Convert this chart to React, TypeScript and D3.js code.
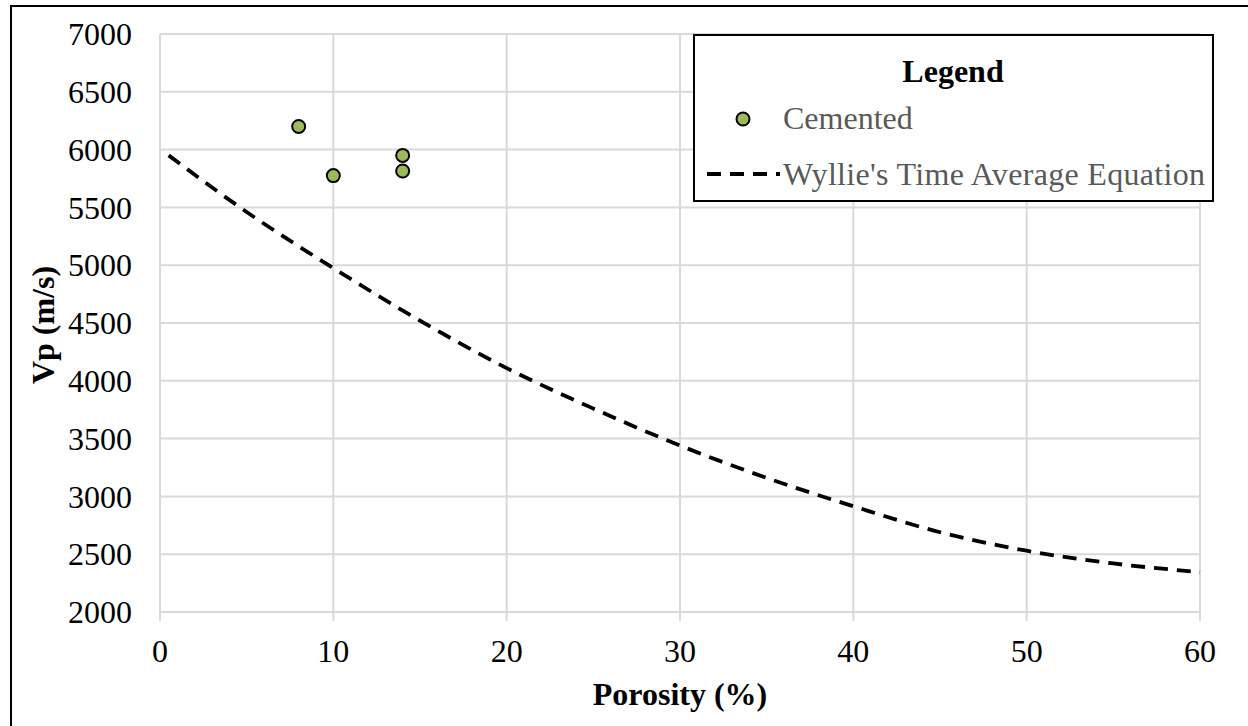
import React, { useRef, useEffect } from 'react';
import * as d3 from 'd3';

// Cemented samples: porosity (%) vs Vp (m/s)
const cementedPorosity = [8, 10, 14, 14];
const cementedVp = [6200, 5775, 5950, 5815];

// Wyllie's time average curve
const wylliePorosity = [0.5, 5, 10, 15, 20, 25, 30, 35, 40, 45, 50, 55, 60];
const wyllieVp = [5950, 5460, 4975, 4520, 4110, 3760, 3440, 3160, 2915, 2690, 2530, 2420, 2345];

const xTicks = [0, 10, 20, 30, 40, 50, 60];
const yTicks = [2000, 2500, 3000, 3500, 4000, 4500, 5000, 5500, 6000, 6500, 7000];

const width = 1248;
const height = 726;
const font = '"Liberation Serif", "Times New Roman", serif';

const App: React.FC = () => {
  const svgRef = useRef<SVGSVGElement>(null);

  useEffect(() => {
    if (!svgRef.current) return;
    const svg = d3.select(svgRef.current);
    svg.selectAll('*').remove();

    const left = 160, right = 1200, top = 34, bottom = 612;
    const xScale = d3.scaleLinear().domain([0, 60]).range([left, right]);
    const yScale = d3.scaleLinear().domain([2000, 7000]).range([bottom, top]);
    const grid = '#d9d9d9';

    // outer frame
    svg.append('rect')
      .attr('x', 11).attr('y', 6)
      .attr('width', width).attr('height', height)
      .attr('fill', 'white')
      .attr('stroke', 'black')
      .attr('stroke-width', 2);

    // horizontal gridlines
    svg.append('g').selectAll('line')
      .data(yTicks)
      .enter().append('line')
      .attr('x1', left).attr('x2', right)
      .attr('y1', d => yScale(d)).attr('y2', d => yScale(d))
      .attr('stroke', grid).attr('stroke-width', 2);

    // vertical gridlines (run past the axis as tick marks)
    svg.append('g').selectAll('line')
      .data(xTicks)
      .enter().append('line')
      .attr('x1', d => xScale(d)).attr('x2', d => xScale(d))
      .attr('y1', top).attr('y2', bottom + 9)
      .attr('stroke', grid).attr('stroke-width', 2);

    // y tick labels
    svg.append('g').selectAll('text')
      .data(yTicks)
      .enter().append('text')
      .attr('x', 132)
      .attr('y', d => yScale(d))
      .attr('dy', '0.35em')
      .attr('text-anchor', 'end')
      .style('font-family', font)
      .style('font-size', '32px')
      .style('fill', 'black')
      .text(d => d);

    // x tick labels
    svg.append('g').selectAll('text')
      .data(xTicks)
      .enter().append('text')
      .attr('x', d => xScale(d))
      .attr('y', 662)
      .attr('text-anchor', 'middle')
      .style('font-family', font)
      .style('font-size', '32px')
      .style('fill', 'black')
      .text(d => d);

    // axis titles
    svg.append('text')
      .attr('x', 680).attr('y', 705)
      .attr('text-anchor', 'middle')
      .style('font-family', font)
      .style('font-size', '32px')
      .style('font-weight', 'bold')
      .text('Porosity (%)');

    svg.append('text')
      .attr('transform', 'translate(54, 325) rotate(-90)')
      .attr('text-anchor', 'middle')
      .style('font-family', font)
      .style('font-size', '32px')
      .style('font-weight', 'bold')
      .text('Vp (m/s)');

    // Wyllie curve
    const wyllie = wylliePorosity.map((p, i) => [p, wyllieVp[i]] as [number, number]);
    const line = d3.line<[number, number]>()
      .x(d => xScale(d[0]))
      .y(d => yScale(d[1]))
      .curve(d3.curveMonotoneX);

    svg.append('path')
      .datum(wyllie)
      .attr('d', line)
      .attr('fill', 'none')
      .attr('stroke', 'black')
      .attr('stroke-width', 3.8)
      .attr('stroke-dasharray', '14,9');

    // cemented points
    svg.append('g').selectAll('circle')
      .data(cementedPorosity.map((p, i) => ({ p, v: cementedVp[i] })))
      .enter().append('circle')
      .attr('cx', d => xScale(d.p))
      .attr('cy', d => yScale(d.v))
      .attr('r', 6.5)
      .attr('fill', '#9bbb59')
      .attr('stroke', 'black')
      .attr('stroke-width', 2);

    // legend
    const lg = svg.append('g');
    lg.append('rect')
      .attr('x', 694).attr('y', 35)
      .attr('width', 519).attr('height', 166)
      .attr('fill', 'white')
      .attr('stroke', 'black')
      .attr('stroke-width', 2);
    lg.append('text')
      .attr('x', 953).attr('y', 82)
      .attr('text-anchor', 'middle')
      .style('font-family', font)
      .style('font-size', '32px')
      .style('font-weight', 'bold')
      .text('Legend');
    lg.append('circle')
      .attr('cx', 743).attr('cy', 119)
      .attr('r', 6.5)
      .attr('fill', '#9bbb59')
      .attr('stroke', 'black')
      .attr('stroke-width', 2);
    lg.append('text')
      .attr('x', 783).attr('y', 129)
      .style('font-family', font)
      .style('font-size', '32px')
      .style('fill', '#595959')
      .text('Cemented');
    lg.append('line')
      .attr('x1', 707).attr('x2', 780)
      .attr('y1', 174).attr('y2', 174)
      .attr('stroke', 'black')
      .attr('stroke-width', 3.8)
      .attr('stroke-dasharray', '14,9');
    lg.append('text')
      .attr('x', 783).attr('y', 185)
      .attr('textLength', 422)
      .style('font-family', font)
      .style('font-size', '32px')
      .style('fill', '#595959')
      .text("Wyllie's Time Average Equation");
  }, []);

  return (
    <svg
      ref={svgRef}
      width={width}
      height={height}
      style={{ position: 'absolute', left: 0, top: 0, background: 'white' }}
    />
  );
};

export default App;
